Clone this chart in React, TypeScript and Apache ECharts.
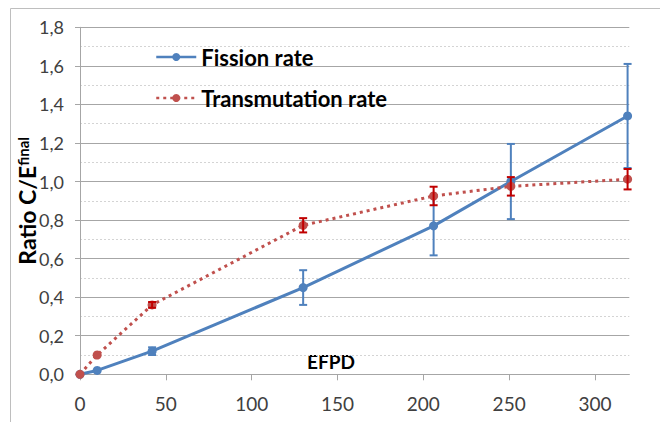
import React, { useEffect, useRef } from "react";
import * as echarts from "echarts";

const efpd = [0, 10, 42, 130, 206, 251, 319];
const fissionRate = [0, 0.02, 0.12, 0.45, 0.77, 1.0, 1.34];
const fissionErr = [0, 0, 0.02, 0.09, 0.153, 0.195, 0.27];
const transmutationRate = [0, 0.1, 0.36, 0.773, 0.925, 0.975, 1.012];
const transmutationErr = [0, 0, 0.015, 0.037, 0.048, 0.048, 0.053];
const xTickValues = [0, 50, 100, 150, 200, 250, 300];
const seriesNames = ["Fission rate", "Transmutation rate"];

const BLUE = "#4F81BD";
const RED = "#C0504D";
const RED_ERR = "#C00000";
const FONT = "Lato";

function errorSeries(xs: number[], ys: number[], es: number[], color: string) {
  return {
    type: "custom",
    silent: true,
    z: 4,
    data: xs.map((x, i) => [x, ys[i], es[i]]),
    encode: { x: 0, y: 1 },
    renderItem: (params: any, api: any) => {
      const x = api.value(0);
      const y = api.value(1);
      const e = api.value(2);
      if (!e) return { type: "group", children: [] };
      const top = api.coord([x, y + e]);
      const bot = api.coord([x, y - e]);
      const hw = 4;
      const style = { stroke: color, lineWidth: 2 };
      return {
        type: "group",
        children: [
          { type: "line", shape: { x1: top[0], y1: top[1], x2: bot[0], y2: bot[1] }, style },
          { type: "line", shape: { x1: top[0] - hw, y1: top[1], x2: top[0] + hw, y2: top[1] }, style },
          { type: "line", shape: { x1: bot[0] - hw, y1: bot[1], x2: bot[0] + hw, y2: bot[1] }, style },
        ],
      };
    },
  };
}

export default function App() {
  const ref = useRef<HTMLDivElement>(null);
  useEffect(() => {
    if (!ref.current) return;
    const chart = echarts.init(ref.current, undefined, { renderer: "svg" });
    const axisGray = "#A6A6A6";
    const option: any = {
      animation: false,
      grid: { left: 80, top: 27.3, right: 30.7, bottom: 47.7 },
      legend: {
        data: seriesNames,
        orient: "vertical",
        left: 150,
        top: 41,
        itemWidth: 40,
        itemHeight: 10,
        itemGap: 19,
        lineStyle: { width: 2.5 },
        textStyle: { fontSize: 22, fontWeight: "bold", color: "#000", fontFamily: FONT },
      },
      xAxis: {
        type: "value",
        min: 0,
        max: 320,
        interval: 50,
        axisLine: { show: true, onZero: false, lineStyle: { color: axisGray, width: 1 } },
        axisTick: { show: true, length: 6, customValues: xTickValues, lineStyle: { color: axisGray } },
        axisLabel: { customValues: xTickValues, margin: 20, fontSize: 19, color: "#404040", fontFamily: FONT },
        splitLine: { show: false },
      },
      yAxis: {
        type: "value",
        min: 0,
        max: 1.8,
        interval: 0.2,
        axisLine: { show: true, lineStyle: { color: axisGray, width: 1 } },
        axisTick: { show: true, length: 5, lineStyle: { color: axisGray } },
        minorTick: { show: false, splitNumber: 2 },
        minorSplitLine: { show: true, lineStyle: { color: "#D4D4D4", type: [2, 2], width: 1 } },
        splitLine: { show: true, lineStyle: { color: axisGray, width: 1 } },
        axisLabel: {
          margin: 16,
          fontSize: 18,
          color: "#404040",
          fontFamily: FONT,
          formatter: (v: number) => v.toFixed(1).replace(".", ","),
        },
        name: "{a|Ratio C/E}{b|final}",
        nameLocation: "middle",
        nameRotate: 90,
        nameGap: 42,
        nameMoveOverlap: false,
        nameTextStyle: {
          rich: {
            a: { fontSize: 23, fontWeight: "bold", color: "#000", fontFamily: FONT },
            b: { fontSize: 15, fontWeight: "bold", color: "#000", fontFamily: FONT, verticalAlign: "top" },
          },
        },
      },
      graphic: [
        {
          type: "rect",
          shape: { x: 10.5, y: 8.5, width: 700, height: 500 },
          style: { fill: "none", stroke: "#BEBEBE", lineWidth: 1 },
          silent: true,
        },
        {
          type: "text",
          x: 331,
          y: 361,
          style: { text: "EFPD", font: `bold 19px ${FONT}`, fill: "#000", align: "center", verticalAlign: "middle" },
        },
      ],
      series: [
        {
          name: seriesNames[0],
          type: "line",
          data: efpd.map((x, i) => [x, fissionRate[i]]),
          symbol: "circle",
          symbolSize: 9,
          lineStyle: { color: BLUE, width: 3 },
          itemStyle: { color: BLUE },
          z: 3,
        },
        errorSeries(efpd, fissionRate, fissionErr, BLUE),
        {
          name: seriesNames[1],
          type: "line",
          data: efpd.map((x, i) => [x, transmutationRate[i]]),
          symbol: "circle",
          symbolSize: 9,
          lineStyle: { color: RED, width: 3, type: [3, 4] },
          itemStyle: { color: RED },
          z: 5,
        },
        { ...errorSeries(efpd, transmutationRate, transmutationErr, RED_ERR), z: 6 },
      ],
    };
    chart.setOption(option);
    return () => chart.dispose();
  }, []);
  return (
    <div
      ref={ref}
      style={{ position: "fixed", left: 0, top: 0, width: 660, height: 422, background: "#fff" }}
    />
  );
}
